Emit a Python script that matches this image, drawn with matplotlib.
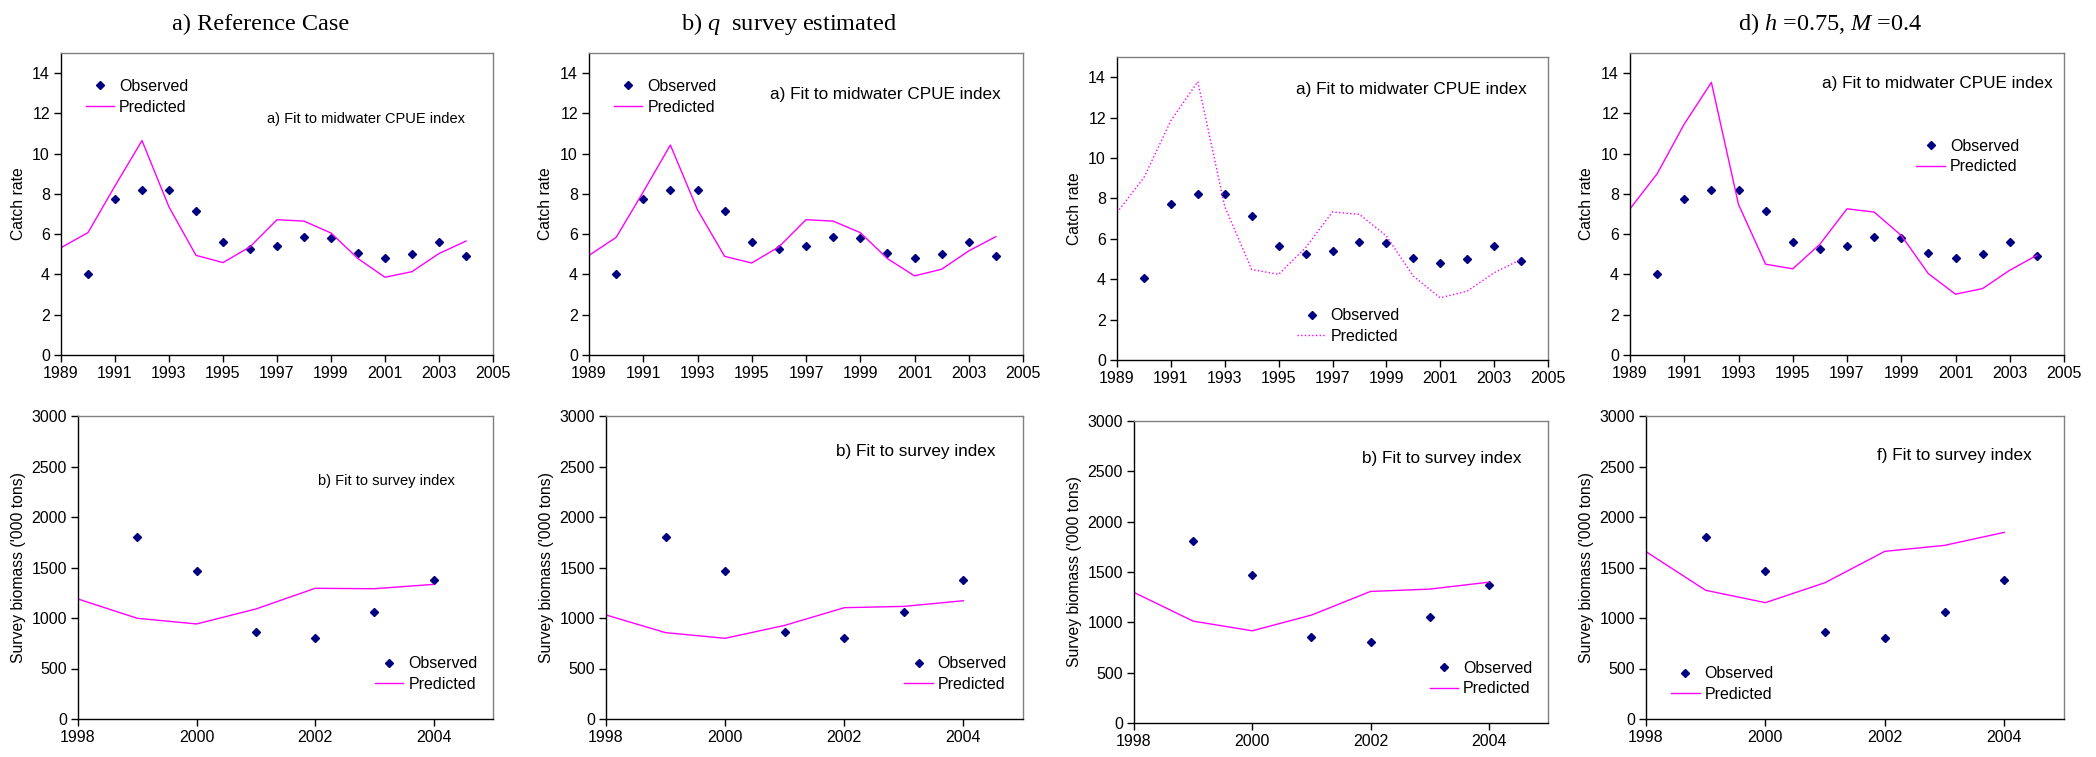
import matplotlib
matplotlib.use("Agg")
import matplotlib.pyplot as plt

plt.rcParams["font.family"] = ["Liberation Sans", "DejaVu Sans"]
plt.rcParams["mathtext.fontset"] = "custom"
plt.rcParams["mathtext.rm"] = "Liberation Serif"
plt.rcParams["mathtext.it"] = "Liberation Serif:italic"

# ---- data ----
cpue_years_obs = [1990, 1991, 1992, 1993, 1994, 1995, 1996, 1997, 1998, 1999,
                  2000, 2001, 2002, 2003, 2004]
cpue_obs = [4.04, 7.73, 8.22, 8.22, 7.15, 5.63, 5.27, 5.42, 5.84, 5.81,
            5.05, 4.82, 5.02, 5.63, 4.90]

cpue_years_pred = [1989, 1990, 1991, 1992, 1993, 1994, 1995, 1996, 1997, 1998,
                   1999, 2000, 2001, 2002, 2003, 2004]
cpue_pred_ref = [5.33, 6.08, 8.40, 10.65, 7.35, 4.95, 4.59, 5.37, 6.72, 6.65,
                 6.06, 4.79, 3.86, 4.14, 5.04, 5.66]
cpue_pred_qsurvey = [4.95, 5.84, 8.10, 10.43, 7.21, 4.90, 4.57, 5.37, 6.72, 6.65,
                     6.08, 4.79, 3.93, 4.26, 5.17, 5.88]
cpue_pred_c = [7.30, 9.03, 11.85, 13.78, 7.60, 4.48, 4.24, 5.56, 7.33, 7.21,
               6.14, 4.15, 3.08, 3.41, 4.32, 4.98]
cpue_pred_d = [7.26, 9.00, 11.47, 13.54, 7.48, 4.51, 4.28, 5.50, 7.26, 7.10,
               5.94, 4.04, 3.02, 3.30, 4.21, 4.95]

survey_years_obs = [1999, 2000, 2001, 2002, 2003, 2004]
survey_obs = [1805, 1469, 858, 802, 1056, 1373]

survey_years_pred = [1998, 1999, 2000, 2001, 2002, 2003, 2004]
survey_pred_ref = [1188, 997, 941, 1089, 1294, 1290, 1333]
survey_pred_qsurvey = [1030, 855, 799, 927, 1102, 1115, 1171]
survey_pred_c = [1297, 1012, 916, 1072, 1307, 1330, 1399]
survey_pred_d = [1657, 1274, 1152, 1350, 1660, 1719, 1848]

column_titles = ["a) Reference Case", "b) $q$  survey estimated", "", "d) $h$ =0.75, $M$ =0.4"]
cpue_notes = ["a) Fit to midwater CPUE index"] * 4
survey_notes = ["b) Fit to survey index", "b) Fit to survey index",
                "b) Fit to survey index", "f) Fit to survey index"]

cpue_preds = [cpue_pred_ref, cpue_pred_qsurvey, cpue_pred_c, cpue_pred_d]
survey_preds = [survey_pred_ref, survey_pred_qsurvey, survey_pred_c, survey_pred_d]

# ---- layout (pixel boxes: left, right, top, bottom) ----
W, H = 2096, 757
top_boxes = [(61, 493, 53, 355), (589, 1023, 53, 355), (1117, 1548, 57, 360), (1630, 2064, 53, 355)]
bot_boxes = [(78, 493, 416, 719), (606, 1023, 416, 719), (1134, 1548, 421, 723), (1646, 2064, 416, 719)]

# note: (x right, y center, fontsize); legend: (x left, y center)
cpue_note_pos = [(0.936, 0.78, 10.5), (0.948, 0.864, 12.3), (0.951, 0.893, 12.3), (0.973, 0.90, 12.3)]
cpue_leg_pos = [(0.057, 0.855), (0.057, 0.855), (0.418, 0.112), (0.66, 0.657)]
cpue_styles = ["-", "-", ":", "-"]
survey_note_pos = [(0.909, 0.785, 10.5), (0.933, 0.882, 12.3), (0.937, 0.877, 12.3), (0.922, 0.871, 12.3)]
survey_leg_pos = [(0.715, 0.148), (0.715, 0.148), (0.714, 0.147), (0.06, 0.115)]

NAVY = "#000080"
MAGENTA = "#FF00FF"


def box_to_rect(box):
    l, r, t, b = box
    return [l / W, 1 - b / H, (r - l) / W, (b - t) / H]


def style_axes(ax):
    for side in ("top", "right"):
        ax.spines[side].set_color("#808080")
        ax.spines[side].set_linewidth(1.0)
    for side in ("left", "bottom"):
        ax.spines[side].set_color("black")
        ax.spines[side].set_linewidth(1.0)
    ax.tick_params(direction="out", length=5, width=1, labelsize=11.5, pad=3)


fig = plt.figure(figsize=(W / 100, H / 100), dpi=100)

for i in range(4):
    # CPUE fit
    ax = fig.add_axes(box_to_rect(top_boxes[i]))
    ax.plot(cpue_years_obs, cpue_obs, linestyle="None", marker="D", markersize=4.2,
            color=NAVY, label="Observed")
    ax.plot(cpue_years_pred, cpue_preds[i], linestyle=cpue_styles[i], color=MAGENTA,
            linewidth=1.0, label="Predicted")
    ax.set_xlim(1989, 2005)
    ax.set_ylim(0, 15)
    ax.set_xticks(range(1989, 2006, 2))
    ax.set_yticks(range(0, 15, 2))
    ax.set_ylabel("Catch rate", fontsize=11.3)
    ax.yaxis.set_label_coords(-0.082, 0.5)
    style_axes(ax)
    nx, ny, nfs = cpue_note_pos[i]
    ax.text(nx, ny, cpue_notes[i], transform=ax.transAxes, ha="right", va="center", fontsize=nfs)
    lx, ly = cpue_leg_pos[i]
    ax.legend(loc="center left", bbox_to_anchor=(lx, ly), frameon=False, fontsize=11.5,
              borderpad=0, borderaxespad=0, handlelength=1.8, handletextpad=0.3,
              labelspacing=0.35)
    if column_titles[i]:
        l, r, t, b = top_boxes[i]
        fig.text((l + r) / 2 / W - 0.008, 1 - 24 / H, column_titles[i],
                 family="Liberation Serif", fontsize=17.5, ha="center", va="center")

    # survey fit
    ax = fig.add_axes(box_to_rect(bot_boxes[i]))
    ax.plot(survey_years_obs, survey_obs, linestyle="None", marker="D", markersize=4.2,
            color=NAVY, label="Observed")
    ax.plot(survey_years_pred, survey_preds[i], linestyle="-", color=MAGENTA,
            linewidth=1.0, label="Predicted")
    ax.set_xlim(1998, 2005)
    ax.set_ylim(0, 3000)
    ax.set_xticks([1998, 2000, 2002, 2004])
    ax.set_yticks(range(0, 3001, 500))
    ax.set_ylabel("Survey biomass ('000 tons)", fontsize=11.3)
    ax.yaxis.set_label_coords(-0.125, 0.5)
    style_axes(ax)
    nx, ny, nfs = survey_note_pos[i]
    ax.text(nx, ny, survey_notes[i], transform=ax.transAxes, ha="right", va="center", fontsize=nfs)
    lx, ly = survey_leg_pos[i]
    ax.legend(loc="center left", bbox_to_anchor=(lx, ly), frameon=False, fontsize=11.5,
              borderpad=0, borderaxespad=0, handlelength=1.8, handletextpad=0.3,
              labelspacing=0.35)

fig.savefig("out.png", dpi=100)
